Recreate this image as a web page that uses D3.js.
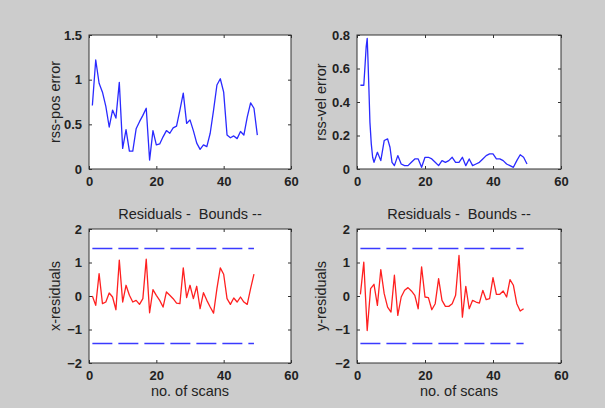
<!DOCTYPE html>
<html>
<head>
<meta charset="utf-8">
<script src="https://cdn.jsdelivr.net/npm/d3@7"></script>
<style>
  body { margin: 0; background: #cccccc; }
  svg { display: block; }
  .tick text { font-family: "Liberation Sans", Arial, sans-serif; font-size: 13px; font-weight: bold; fill: #222; }
  .lbl { font-family: "Liberation Sans", Arial, sans-serif; font-size: 14.5px; fill: #222; white-space: pre; }
</style>
</head>
<body>
<div id="chart"></div>
<script>
// scan numbers
const scans = d3.range(1, 51);
const scansRes = d3.range(1, 50);

// rss position error
const posErr = [0.71, 1.22, 0.96, 0.86, 0.70, 0.47, 0.66, 0.57, 0.97, 0.23,
  0.44, 0.20, 0.20, 0.45, 0.53, 0.60, 0.68, 0.10, 0.43, 0.27,
  0.28, 0.36, 0.43, 0.40, 0.46, 0.48, 0.66, 0.85, 0.51, 0.55,
  0.43, 0.29, 0.22, 0.27, 0.25, 0.40, 0.66, 0.94, 1.01, 0.86,
  0.38, 0.35, 0.37, 0.34, 0.42, 0.38, 0.58, 0.74, 0.68, 0.38];

// rss velocity error (denser sampling at the start peak)
const velScan = [1, 2, 2.4, 2.7, 3, 3.2, 3.5, 3.8, 4.2, 4.6,
  5, 6, 7, 8, 9, 9.7, 10.3, 11, 12, 13, 14, 15, 16, 17, 18, 19, 20,
  21, 22, 23, 24, 25, 26, 27, 28, 29, 30, 31, 32, 33, 34, 35, 36, 37, 38, 39, 40,
  41, 42, 43, 44, 45, 46, 47, 48, 49, 50];
const velErr = [0.50, 0.50, 0.63, 0.73, 0.78, 0.67, 0.48, 0.28, 0.15, 0.07,
  0.04, 0.10, 0.05, 0.17, 0.18, 0.13, 0.04, 0.02, 0.08, 0.03, 0.02, 0.02, 0.04, 0.06, 0.06, 0.01, 0.07,
  0.07, 0.06, 0.04, 0.02, 0.05, 0.04, 0.05, 0.07, 0.04, 0.04, 0.07, 0.02, 0.06, 0.02, 0.03, 0.04, 0.06, 0.08, 0.09, 0.09,
  0.06, 0.06, 0.05, 0.03, 0.02, 0.01, 0.05, 0.085, 0.07, 0.03];

// residuals
const xRes = [0.00, -0.28, 0.67, -0.23, -0.18, 0.09, -0.03, -0.41, 1.07, -0.18,
  0.32, 0.02, -0.18, -0.13, -0.25, -0.08, 1.10, -0.50, 0.19, 0.02,
  -0.13, -0.33, 0.12, 0.02, -0.08, -0.21, -0.23, 0.84, -0.05, 0.32,
  -0.08, 0.29, -0.38, 0.10, -0.13, -0.33, -0.51, 0.22, 0.84, 0.65,
  -0.08, -0.25, -0.06, -0.18, -0.03, -0.18, -0.25, 0.22, 0.65];
const yRes = [0.05, 1.01, -1.03, 0.22, 0.35, -0.28, 0.79, 0.07, -0.33, -0.48,
  0.62, -0.58, -0.03, 0.17, 0.25, 0.15, 0.02, -0.38, 0.87, -0.03,
  -0.05, -0.41, -0.23, 0.52, -0.13, -0.31, -0.31, -0.23, 0.02, 1.21,
  -0.63, 0.29, -0.38, -0.13, -0.18, -0.21, 0.17, -0.11, -0.08, 0.55,
  0.05, 0.05, 0.15, -0.03, 0.49, 0.32, -0.23, -0.45, -0.38];
const bound = 1.42;

const xTicks = [0, 20, 40, 60];

const svg = d3.select("#chart").append("svg")
    .attr("width", 605)
    .attr("height", 408);

const panels = [
  {left: 89, top: 35, w: 202, h: 134, yDom: [0, 1.5], yTicks: [0, 0.5, 1, 1.5],
   xs: scans, ys: posErr, color: "#2a2aff", ylabel: "rss-pos error"},
  {left: 357, top: 35, w: 204, h: 134, yDom: [0, 0.8], yTicks: [0, 0.2, 0.4, 0.6, 0.8],
   xs: velScan, ys: velErr, color: "#2a2aff", ylabel: "rss-vel error"},
  {left: 89, top: 229, w: 202, h: 134, yDom: [-2, 2], yTicks: [-2, -1, 0, 1, 2],
   xs: scansRes, ys: xRes, color: "#ff2020", ylabel: "x-residuals", resid: true},
  {left: 357, top: 229, w: 204, h: 134, yDom: [-2, 2], yTicks: [-2, -1, 0, 1, 2],
   xs: scansRes, ys: yRes, color: "#ff2020", ylabel: "y-residuals", resid: true}
];

panels.forEach(function(p) {
  const g = svg.append("g").attr("transform", `translate(${p.left}, ${p.top})`);
  const x = d3.scaleLinear().domain([0, 60]).range([0, p.w]);
  const y = d3.scaleLinear().domain(p.yDom).range([p.h, 0]);

  g.append("rect")
    .attr("width", p.w).attr("height", p.h)
    .attr("fill", "white");

  // bounds
  if (p.resid) {
    [bound, -bound].forEach(function(b) {
      g.append("line")
        .attr("x1", x(1)).attr("x2", x(49))
        .attr("y1", y(b)).attr("y2", y(b))
        .attr("stroke", "#3a3aff")
        .attr("stroke-width", 1.5)
        .attr("stroke-dasharray", "20,6");
    });
  }

  // data line
  const line = d3.line()
    .x((d, i) => x(p.xs[i]))
    .y(d => y(d));
  g.append("path")
    .datum(p.ys)
    .attr("fill", "none")
    .attr("stroke", p.color)
    .attr("stroke-width", 1.3)
    .attr("stroke-linejoin", "round")
    .attr("d", line);

  // axes with inward ticks on all sides
  g.append("g")
    .attr("transform", `translate(0, ${p.h})`)
    .call(d3.axisBottom(x).tickValues(xTicks).tickSizeInner(-3).tickSizeOuter(0).tickPadding(8));
  g.append("g")
    .call(d3.axisTop(x).tickValues(xTicks).tickSizeInner(-3).tickSizeOuter(0).tickFormat(""));
  g.append("g")
    .call(d3.axisLeft(y).tickValues(p.yTicks).tickSizeInner(-3).tickSizeOuter(0).tickPadding(7)
      .tickFormat(d3.format("~g")));
  g.append("g")
    .attr("transform", `translate(${p.w}, 0)`)
    .call(d3.axisRight(y).tickValues(p.yTicks).tickSizeInner(-3).tickSizeOuter(0).tickFormat(""));
  g.selectAll(".domain").remove();
  g.selectAll(".tick line").attr("stroke", "#333");

  g.append("rect")
    .attr("width", p.w).attr("height", p.h)
    .attr("fill", "none")
    .attr("stroke", "#333")
    .attr("stroke-width", 1);

  // y label
  g.append("text")
    .attr("class", "lbl")
    .attr("transform", "rotate(-90)")
    .attr("x", -p.h / 2)
    .attr("y", -p.left + (p.left > 300 ? 321 : 55) + 5)
    .attr("text-anchor", "middle")
    .text(p.ylabel);

  if (p.resid) {
    g.append("text")
      .attr("class", "lbl")
      .attr("x", p.w / 2)
      .attr("y", -10)
      .attr("text-anchor", "middle")
      .text("Residuals -  Bounds --");
    g.append("text")
      .attr("class", "lbl")
      .attr("x", p.w / 2)
      .attr("y", p.h + 33)
      .attr("text-anchor", "middle")
      .text("no. of scans");
  }
});
</script>
</body>
</html>
